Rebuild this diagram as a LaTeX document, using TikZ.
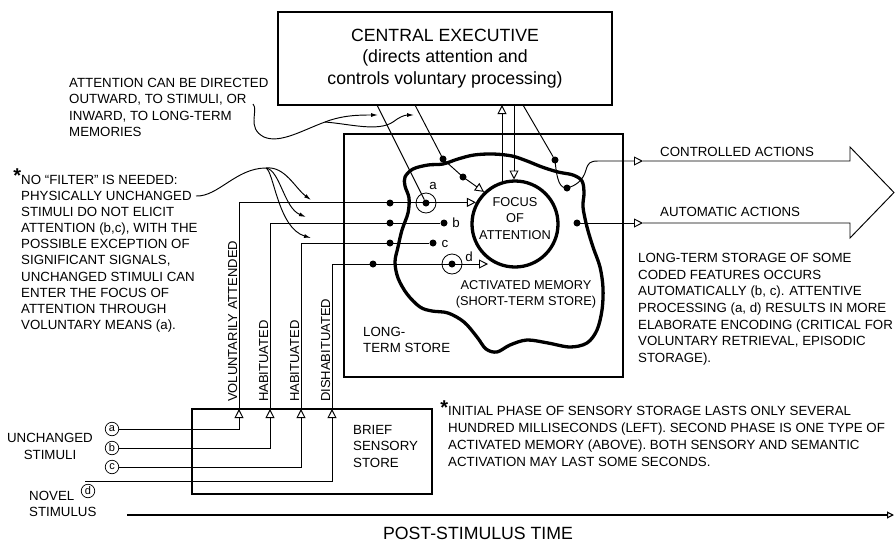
\documentclass[tikz,border=0pt]{standalone}
\usepackage{fontspec}
\setmainfont{Liberation Sans}
\usetikzlibrary{arrows.meta}
\begin{document}
\begin{tikzpicture}[x=1pt,y=-1pt,
  thinline/.style={line width=0.95pt},
  boxnode/.style={draw, line width=1.9pt, inner sep=0pt},
  txt/.style={font=\fontsize{13.3}{16.4}\selectfont, inner sep=0pt, align=left},
  inlbl/.style={font=\fontsize{12.8}{16.5}\selectfont, inner sep=0pt, align=center},
  bigtxt/.style={font=\fontsize{17.7}{21.7}\selectfont, inner sep=0pt, align=center},
  dotnode/.style={circle, fill=black, inner sep=0pt, minimum size=7pt},
  ringnode/.style={circle, draw, line width=0.8pt, inner sep=0pt, minimum size=20pt},
  stimnode/.style={circle, draw, line width=0.7pt, inner sep=0pt, minimum size=13.5pt, font=\fontsize{11}{11}\selectfont},
  openarr/.style={-{Triangle[open,length=9pt,width=9pt]}},
  fillarr/.style={-{Latex[length=7pt,width=4pt]}},
  vlbl/.style={font=\fontsize{13}{13}\selectfont, inner sep=0pt, rotate=90, anchor=base west}
]
\useasboundingbox (0,0) rectangle (895,544);

% ---------- boxes ----------
\node[boxnode, minimum width=334pt, minimum height=93pt, bigtxt] (ce) at (445,58.5)
  {CENTRAL EXECUTIVE\\(directs attention and\\controls voluntary processing)};
\node[boxnode, minimum width=279pt, minimum height=243pt] (lts) at (483.5,255.5) {};
\node[boxnode, minimum width=240pt, minimum height=85pt] (bss) at (312,451.5) {};

% ---------- activated memory blob ----------
\draw[line width=3.3pt] plot[smooth cycle, tension=0.55] coordinates {
 (405,177) (413,169) (428,165) (443,164) (458,159) (474,155) (493,154) (512,156)
 (527,161) (542,167) (558,172) (573,175) (582,181) (584,193) (583,207) (587,227)
 (593,247) (600,267) (603,288) (602,310) (597,330) (587,343) (570,347) (548,343)
 (527,340) (510,345) (497,352) (486,349) (477,337) (464,322) (448,313) (432,311)
 (420,307) (407,294) (398,278) (395,262) (398,247) (402,230) (408,213) (409,198)
 (405,186)};

% ---------- focus of attention ----------
\node[circle, draw, line width=3.3pt, minimum size=86pt, inner sep=0pt] (focus) at (515,224) {};
\node[inlbl] (focustxt) at (515,218.5) {FOCUS\\OF\\ATTENTION};

% ---------- labels inside ----------
\node[inlbl] (amem) at (526,294.5) {ACTIVATED MEMORY\\(SHORT-TERM STORE)};
\node[txt, anchor=north west] (ltstxt) at (363,327) {LONG-\\TERM STORE};
\node[txt, anchor=north west] (bsstxt) at (353,425) {BRIEF\\SENSORY\\STORE};

% ---------- stimuli ----------
\node[stimnode] (sa) at (112,429) {a};
\node[stimnode] (sb) at (112,448) {b};
\node[stimnode] (sc) at (112,467) {c};
\node[stimnode] (sd) at (88,491) {d};
\node[txt, align=center] (unch) at (50,446.5) {UNCHANGED\\STIMULI};
\node[txt, anchor=north west] (novel) at (29,491) {NOVEL\\STIMULUS};

\coordinate (ta) at (239,409);
\coordinate (tb) at (270,409);
\coordinate (tc) at (301,409);
\coordinate (td) at (332,409);
\coordinate (d0) at (85,481);

\draw[thinline, openarr] (sa) -| (ta);
\draw[thinline, openarr] (sb) -| (tb);
\draw[thinline, openarr] (sc) -| (tc);
\draw[thinline, openarr] (d0) -| (td);

% vertical labels
\node[vlbl] (lva) at (237,402) {VOLUNTARILY ATTENDED};
\node[vlbl] (lvb) at (268,402) {HABITUATED};
\node[vlbl] (lvc) at (299,402) {HABITUATED};
\node[vlbl] (lvd) at (330,402) {DISHABITUATED};

% dots
\node[dotnode] (pa) at (390,203) {};
\node[dotnode] (pb) at (390,223) {};
\node[dotnode] (pc) at (390,243) {};
\node[dotnode] (pd) at (373,264) {};
\node[dotnode] (ra) at (426,203) {};
\node[ringnode] (raring) at (426,203) {};
\node[dotnode] (eb) at (444,223) {};
\node[dotnode] (ec) at (433,243) {};
\node[dotnode] (rd) at (452,264) {};
\node[ringnode] (rdring) at (452,264) {};
\coordinate (fd) at (488,264);

\draw[thinline, openarr] (ta) |- (focus.151);
\draw[thinline] (tb) |- (eb);
\draw[thinline] (tc) |- (ec);
\draw[thinline, openarr] (td) |- (fd);

\node[txt] (la) at (433,186) {a};
\node[txt] (lb) at (456,223) {b};
\node[txt] (lc) at (445,244) {c};
\node[txt] (ld) at (469,257) {d};

% ---------- central executive connectors ----------
\coordinate (ce1) at (377,105);
\coordinate (ce2) at (415,105);
\coordinate (ce3) at (523,105);
\coordinate (ceu) at (502,105);
\coordinate (ced) at (514,105);
\coordinate (fu) at (502,184);
\coordinate (fdn) at (514,179.5);
\node[dotnode] (q1) at (443,159) {};
\node[dotnode] (q2) at (463,177) {};
\node[dotnode] (q3) at (555,160) {};
\node[dotnode] (q4) at (567,188) {};
\node[dotnode] (q5) at (577,223) {};

\draw[thinline] (ce1) -- (ra);
\draw[thinline, openarr] (ce2) -- (q1.center) -- (q2.center) -- (focus.134);
\draw[thinline] (ce3) -- (q3);
\draw[thinline] (q3.center) .. controls (557,182) and (560,188) .. (q4.center);
\draw[thinline, openarr] (fu) -- (ceu);
\draw[thinline, openarr] (ced) -- (fdn);

% ---------- actions ----------
\coordinate (ct) at (643,161);
\coordinate (at) at (643,223);
\draw[thinline, openarr] (q4.center) .. controls (575,186) and (583,181) .. (586,170)
   .. controls (588,163) and (590,161) .. (598,161) -- (ct);
\draw[thinline, openarr] (q5.center) -- (at);
\draw[thinline] (ct) -- (850,161) -- (850,147) -- (894,192.5) -- (850,238) -- (850,223) -- (at);
\node[txt, anchor=west] (ctl) at (660,151.5) {CONTROLLED ACTIONS};
\node[txt, anchor=west] (atl) at (660,212) {AUTOMATIC ACTIONS};

% ---------- annotations ----------
\node[txt, anchor=north west] (attn) at (69,78)
 {ATTENTION CAN BE DIRECTED\\OUTWARD, TO STIMULI, OR\\INWARD, TO LONG-TERM\\MEMORIES};
\coordinate (attn0) at (253,104);
\coordinate (attnm) at (325,122);
\coordinate (attn1) at (378,115);
\coordinate (attn2) at (414,115);
\draw[thinline] (attn0) .. controls (259,110) and (246,128) .. (264,137)
   .. controls (280,144) and (303,130) .. (attnm);
\draw[thinline, fillarr] (attnm) .. controls (343,115) and (360,115) .. (attn1);
\draw[thinline, fillarr] (attnm) .. controls (350,124) and (378,132) .. (393,122)
   .. controls (398,118) and (404,115) .. (attn2);

\node[txt, anchor=north west, font=\fontsize{13.3}{16.1}\selectfont] (nofilt) at (21,175)
 {\llap{\smash{\raisebox{2pt}{\fontsize{20}{20}\selectfont\bfseries *}}}NO “FILTER” IS NEEDED:\\PHYSICALLY UNCHANGED\\STIMULI DO NOT ELICIT\\ATTENTION (b,c), WITH THE\\POSSIBLE EXCEPTION OF\\SIGNIFICANT SIGNALS,\\UNCHANGED STIMULI CAN\\ENTER THE FOCUS OF\\ATTENTION THROUGH\\VOLUNTARY MEANS (a).};
\coordinate (nf0) at (196,196);
\coordinate (nfh) at (266,168);
\coordinate (nf1) at (311,200);
\coordinate (nf2) at (306,217);
\coordinate (nf3) at (311,238);
\draw[thinline] (nf0) .. controls (218,197) and (236,168) .. (nfh);
\draw[thinline, fillarr] (nfh) .. controls (285,166) and (295,188) .. (nf1);
\draw[thinline, fillarr] (nfh) .. controls (280,170) and (284,208) .. (nf2);
\draw[thinline, fillarr] (nfh) .. controls (274,172) and (278,228) .. (nf3);

\node[txt, anchor=north west, font=\fontsize{13.3}{16.7}\selectfont] (ltsnote) at (638,253)
 {LONG-TERM STORAGE OF SOME\\CODED FEATURES OCCURS\\AUTOMATICALLY (b, c). ATTENTIVE\\PROCESSING (a, d) RESULTS IN MORE\\ELABORATE ENCODING (CRITICAL FOR\\VOLUNTARY RETRIEVAL, EPISODIC\\STORAGE).};

\node[txt, anchor=north west, font=\fontsize{13.3}{17}\selectfont] (foot) at (448,406)
 {\llap{\smash{\raisebox{1pt}{\fontsize{20}{20}\selectfont\bfseries *}}}INITIAL PHASE OF SENSORY STORAGE LASTS ONLY SEVERAL\\HUNDRED MILLISECONDS (LEFT). SECOND PHASE IS ONE TYPE OF\\ACTIVATED MEMORY (ABOVE). BOTH SENSORY AND SEMANTIC\\ACTIVATION MAY LAST SOME SECONDS.};

% ---------- time axis ----------
\coordinate (t0) at (127,515);
\coordinate (t1) at (894,515);
\draw[line width=1.1pt, -{Triangle[open,length=7pt,width=7pt]}] (t0) -- (t1);
\node[bigtxt] (timelbl) at (478,533.5) {POST-STIMULUS TIME};
\end{tikzpicture}
\end{document}
